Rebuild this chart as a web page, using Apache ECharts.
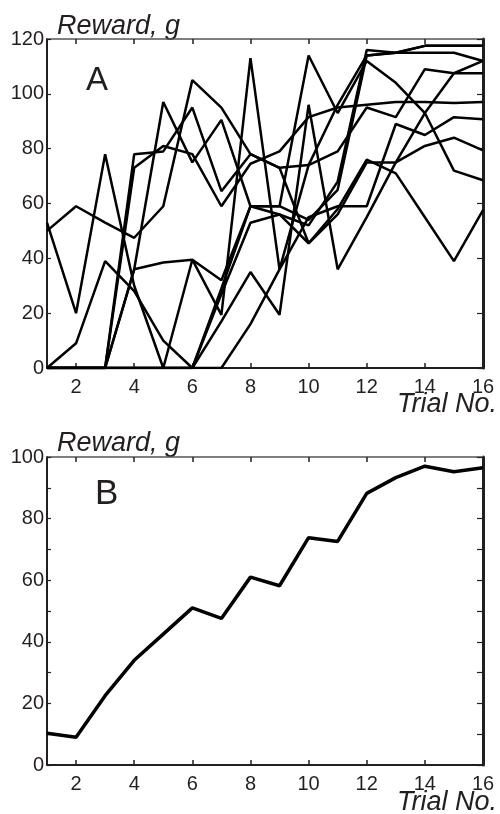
<!DOCTYPE html>
<html>
<head>
<meta charset="utf-8">
<script src="https://cdn.jsdelivr.net/npm/echarts@6/dist/echarts.min.js"></script>
<style>
  html, body { margin: 0; padding: 0; background: #fff; }
  #chart { width: 500px; height: 814px; }
</style>
</head>
<body>
<div id="chart"></div>
<script>
// trial numbers shared by both panels
const trials = [1, 2, 3, 4, 5, 6, 7, 8, 9, 10, 11, 12, 13, 14, 15, 16];
const evenTicks = [2, 4, 6, 8, 10, 12, 14, 16];

// panel A: individual animals, reward in g per trial
const animal1 = [53, 20, 78, 30, 0, 39.5, 19.4, 113, 36, 74, 96, 114, 115, 115, 115, 112];
const animal2 = [50, 59, 53, 47.5, 59, 105, 95, 78, 73, 74, 79, 95, 91.5, 109, 107.5, 107.5];
const animal3 = [0, 0, 0, 36, 97, 75, 90.5, 59, 59, 114, 93, 112, 104, 93, 72, 68.5];
const animal4 = [0, 0, 0, 73, 81, 78, 59, 74.5, 79, 91.5, 95, 96, 97, 97, 96.7, 97];
const animal5 = [0, 0, 0, 0, 0, 0, 0, 16, 36, 55, 59, 59, 89, 85, 91.5, 90.7];
const animal6 = [0, 9, 39, 28, 10, 0, 17, 35, 19.4, 96, 36, 55, 75, 81, 84, 79.4];
const animal7 = [0, 0, 0, 78, 79, 95, 64.5, 78, 73, 45.5, 58, 76, 71, 55, 39, 57.6];
const animal8 = [0, 0, 0, 36, 38.5, 39.5, 32, 59, 59, 54, 65, 114, 115, 117.5, 117.5, 117.5];
const animal9 = [0, 0, 0, 0, 0, 0, 27, 53, 56, 52, 68, 116, 115, 117.5, 117.5, 117.5];
const animal10 = [0, 0, 0, 0, 0, 0, 29, 59, 56, 45.5, 56, 75, 75, 93, 107.5, 112];

// panel B: mean reward
const meanReward = [10.3, 9.0, 22.5, 34, 42.5, 51, 47.6, 61, 58.2, 73.8, 72.6, 88.2, 93.3, 97, 95.2, 96.5];

const animals = [animal1, animal2, animal3, animal4, animal5, animal6, animal7, animal8, animal9, animal10];

const ink = '#231f20';
const font = '"Liberation Sans", Arial, sans-serif';

function toPoints(values) {
  return trials.map((t, i) => [t, values[i]]);
}

function bottomAxis(gridIndex) {
  return {
    gridIndex: gridIndex, type: 'value', position: 'bottom', min: 1, max: 16,
    axisLine: { onZero: false, lineStyle: { color: ink, width: 2 } },
    axisTick: { inside: true, length: 5, customValues: evenTicks, lineStyle: { color: ink, width: 1.5 } },
    axisLabel: { customValues: evenTicks, margin: 9, fontSize: 20, color: ink, fontFamily: font },
    splitLine: { show: false }
  };
}

function topAxis(gridIndex) {
  return {
    gridIndex: gridIndex, type: 'value', position: 'top', min: 1, max: 16,
    axisLine: { onZero: false, lineStyle: { color: '#555', width: 1.5 } },
    axisTick: { inside: true, length: 5, customValues: evenTicks, lineStyle: { color: ink, width: 1.5 } },
    axisLabel: { show: false },
    splitLine: { show: false }
  };
}

function leftAxis(gridIndex, max, interval, labelStep) {
  return {
    gridIndex: gridIndex, type: 'value', position: 'left', min: 0, max: max, interval: interval,
    axisLine: { show: true, onZero: false, lineStyle: { color: ink, width: 2 } },
    axisTick: { show: true, inside: true, length: 4, lineStyle: { color: ink, width: 1.2 } },
    axisLabel: {
      margin: 3, fontSize: 20, color: ink, fontFamily: font,
      formatter: (v) => (v % labelStep === 0 ? String(v) : '')
    },
    splitLine: { show: false }
  };
}

function rightAxis(gridIndex, max, interval) {
  return {
    gridIndex: gridIndex, type: 'value', position: 'right', min: 0, max: max, interval: interval,
    axisLine: { show: true, onZero: false, lineStyle: { color: ink, width: 3 } },
    axisTick: { show: true, inside: true, length: 6, lineStyle: { color: ink, width: 1.2 } },
    axisLabel: { show: false },
    splitLine: { show: false }
  };
}

function label(text, x, y, size, italic, align) {
  return {
    type: 'text', x: x, y: y,
    style: {
      text: text, fill: ink, font: (italic ? 'italic ' : '') + size + 'px ' + font,
      textAlign: align || 'left', textVerticalAlign: 'bottom'
    }
  };
}

const series = animals.map((values) => ({
  type: 'line', xAxisIndex: 0, yAxisIndex: 0, data: toPoints(values),
  symbol: 'none', silent: true,
  lineStyle: { color: '#000', width: 2.5 }
}));

series.push({
  type: 'line', xAxisIndex: 2, yAxisIndex: 2, data: toPoints(meanReward),
  symbol: 'none', silent: true,
  lineStyle: { color: '#000', width: 3.5 }
});

const chart = echarts.init(document.getElementById('chart'), null, { renderer: 'canvas' });
chart.setOption({
  animation: false,
  backgroundColor: '#fff',
  grid: [
    { left: 47, top: 39, width: 436, height: 329 },
    { left: 47, top: 457, width: 436, height: 308 }
  ],
  xAxis: [bottomAxis(0), topAxis(0), bottomAxis(1), topAxis(1)],
  yAxis: [leftAxis(0, 120, 20, 20), rightAxis(0, 120, 20), leftAxis(1, 100, 10, 20), rightAxis(1, 100, 10)],
  graphic: [
    label('Reward, g', 57, 40, 27, true),
    label('A', 86, 97, 33, false),
    label('Trial No.', 497, 418, 27, true, 'right'),
    label('Reward, g', 57, 457, 27, true),
    label('B', 95, 512, 35, false),
    label('Trial No.', 497, 816, 27, true, 'right')
  ],
  series: series
});
</script>
</body>
</html>
